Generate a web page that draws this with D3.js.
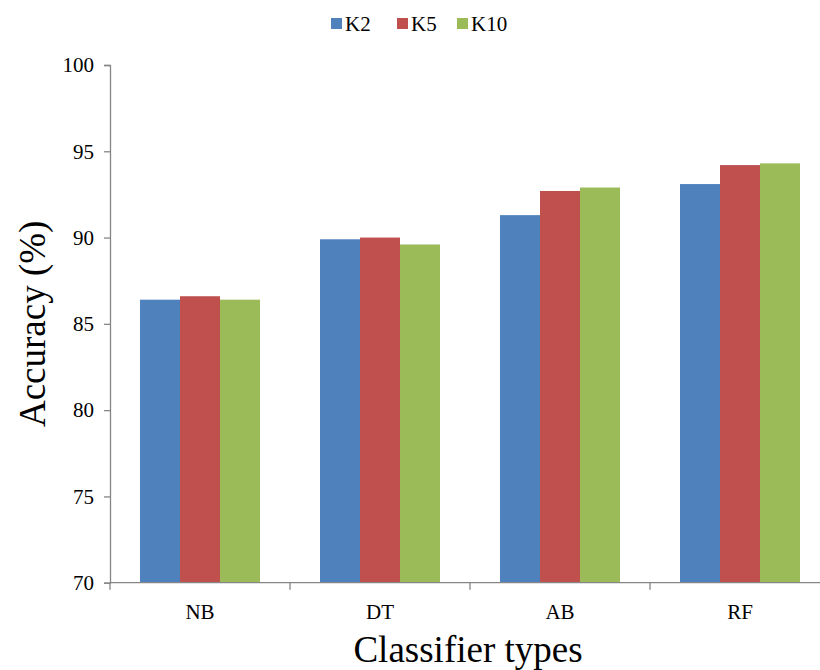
<!DOCTYPE html>
<html>
<head>
<meta charset="utf-8">
<script src="https://cdn.jsdelivr.net/npm/d3@7"></script>
<style>
  html, body { margin: 0; padding: 0; background: #fff; }
  svg { display: block; }
  svg text { font-family: "Liberation Serif", "Times New Roman", Tinos, "DejaVu Serif", serif; fill: #000; }
</style>
</head>
<body>
<svg id="chart" width="820" height="670"></svg>
<script>
// Classifier accuracy for three cross-validation folds
const categories = ["NB", "DT", "AB", "RF"];
const seriesNames = ["K2", "K5", "K10"];
const k2Values  = [86.4, 89.9, 91.3, 93.1];
const k5Values  = [86.6, 90.0, 92.7, 94.2];
const k10Values = [86.4, 89.6, 92.9, 94.3];
const yTicks = [70, 75, 80, 85, 90, 95, 100];
const seriesColors = ["#4F81BD", "#C0504D", "#9BBB59"];

const seriesValues = [k2Values, k5Values, k10Values];
const rows = categories.map((c, i) => ({
  category: c,
  values: seriesNames.map((s, j) => ({ key: s, value: seriesValues[j][i] }))
}));

const serif = '"Liberation Serif", "Times New Roman", Tinos, "DejaVu Serif", serif';
const svg = d3.select("#chart");
const margin = { left: 110, top: 65, right: -10, bottom: 87 };
const W = 820, H = 670;
const axisColor = "#868686";

const x = d3.scaleBand()
  .domain(categories)
  .range([margin.left, W - margin.right])
  .paddingInner(0)
  .paddingOuter(0);

// three 40px bars centred in each 180px category band
const x1 = d3.scaleBand()
  .domain(seriesNames)
  .range([0, x.bandwidth()])
  .paddingInner(0)
  .paddingOuter(0.75);

const color = d3.scaleOrdinal().domain(seriesNames).range(seriesColors);

const y = d3.scaleLinear()
  .domain([70, 100])
  .range([H - margin.bottom - 0.3, margin.top]);

// Bars
const groups = svg.append("g")
  .selectAll("g")
  .data(rows)
  .join("g")
  .attr("transform", d => `translate(${x(d.category)},0)`);

groups.selectAll("rect")
  .data(d => d.values)
  .join("rect")
  .attr("x", d => x1(d.key))
  .attr("y", d => y(d.value))
  .attr("width", x1.bandwidth())
  .attr("height", d => y(70) - y(d.value))
  .attr("fill", d => color(d.key));

// Y axis
const yAxis = svg.append("g")
  .attr("transform", `translate(${margin.left},0)`)
  .call(d3.axisLeft(y).tickValues(yTicks).tickSize(6).tickPadding(10).tickFormat(d3.format("d")))
  .attr("font-family", serif);
yAxis.select(".domain").attr("stroke", axisColor).attr("stroke-width", 1.3);
yAxis.selectAll(".tick line").attr("stroke", axisColor).attr("stroke-width", 1.3);
yAxis.selectAll(".tick text")
  .attr("font-size", 21)
  .style("font-family", serif)
  .attr("fill", "#1a1a1a");

// X axis: ticks on category boundaries
const xAxisG = svg.append("g")
  .attr("transform", `translate(0,${y(70)})`);
xAxisG.append("line")
  .attr("x1", margin.left).attr("x2", W - margin.right)
  .attr("stroke", axisColor).attr("stroke-width", 1.3);
const boundaries = categories.map(c => x(c)).concat([x(categories[categories.length - 1]) + x.bandwidth()]);
xAxisG.selectAll("line.bnd")
  .data(boundaries)
  .join("line")
  .attr("class", "bnd")
  .attr("x1", d => d).attr("x2", d => d)
  .attr("y1", 0).attr("y2", 7)
  .attr("stroke", axisColor).attr("stroke-width", 1.3);
xAxisG.selectAll("text.cat")
  .data(categories)
  .join("text")
  .attr("class", "cat")
  .attr("x", d => x(d) + x.bandwidth() / 2)
  .attr("y", 36)
  .attr("text-anchor", "middle")
  .attr("font-size", 21)
  .style("font-family", serif)
  .attr("fill", "#1a1a1a")
  .text(d => d);

// Axis titles
svg.append("text")
  .attr("x", (margin.left + W - margin.right) / 2 - 2)
  .attr("y", 662)
  .attr("text-anchor", "middle")
  .attr("font-size", 37)
  .style("font-family", serif)
  .text("Classifier types");

svg.append("text")
  .attr("transform", `translate(45,${(y(70) + y(100)) / 2}) rotate(-90)`)
  .attr("text-anchor", "middle")
  .attr("font-size", 37)
  .style("font-family", serif)
  .text("Accuracy (%)");

// Legend
const legendX = [331, 397, 457];
const legend = svg.append("g")
  .selectAll("g")
  .data(seriesNames)
  .join("g")
  .attr("transform", (d, i) => `translate(${legendX[i]},18)`);
legend.append("rect")
  .attr("width", 11).attr("height", 11)
  .attr("fill", d => color(d));
legend.append("text")
  .attr("x", 14)
  .attr("y", 13)
  .attr("font-size", 21)
  .style("font-family", serif)
  .text(d => d);
</script>
</body>
</html>
